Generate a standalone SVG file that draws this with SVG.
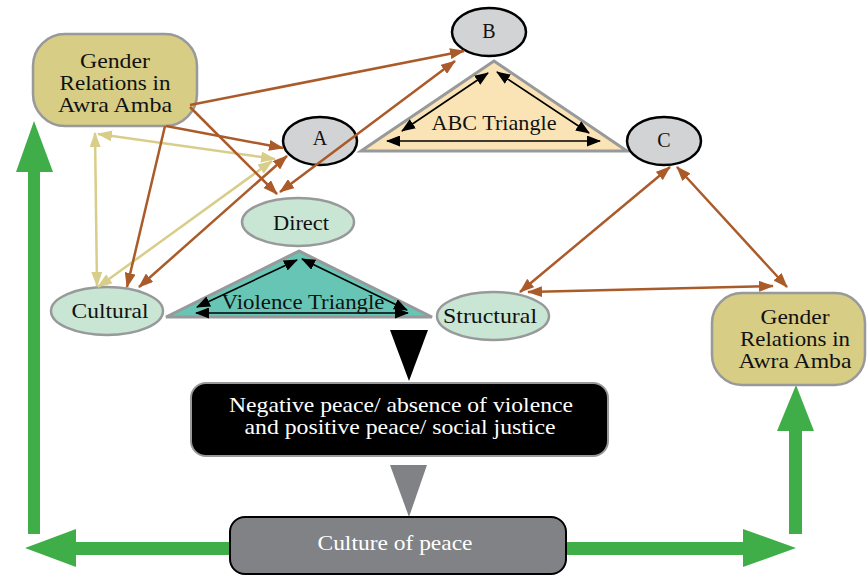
<svg xmlns="http://www.w3.org/2000/svg" width="868" height="576" viewBox="0 0 868 576">
<style>
text{font-family:"Liberation Serif","Times New Roman",serif;fill:#111;text-anchor:middle}
.w{fill:#fff}
.gbox{fill:#d7cd85;stroke:#98999b;stroke-width:2.5}
.abc{fill:#d1d3d4;stroke:#000;stroke-width:2.5}
.vio{fill:#c8e6d3;stroke:#98999b;stroke-width:2.5}
.br{stroke:#ab5a29;stroke-width:2.5;fill:none}
.tn{stroke:#d9cd8a;stroke-width:2.5;fill:none}
.bk{stroke:#000;stroke-width:1.6;fill:none}
.green{fill:#3fae49}
</style>
<defs>
<marker id="mb" markerUnits="userSpaceOnUse" markerWidth="15" markerHeight="11" refX="14" refY="5.5" orient="auto-start-reverse"><path d="M0,0 L15,5.5 L0,11 z" fill="#ab5a29"/></marker>
<marker id="mt" markerUnits="userSpaceOnUse" markerWidth="15" markerHeight="11" refX="14" refY="5.5" orient="auto-start-reverse"><path d="M0,0 L15,5.5 L0,11 z" fill="#d9cd8a"/></marker>
<marker id="mk" markerUnits="userSpaceOnUse" markerWidth="14" markerHeight="11" refX="13" refY="5.5" orient="auto-start-reverse"><path d="M0,0 L14,5.5 L0,11 z" fill="#000"/></marker>
</defs>

<g id="green-arrows">
<polygon class="green" points="28,534 40,534 40,172 53,172 34,121 16,172 28,172"/>
<polygon class="green" points="230,542 76,542 76,529 25,548 76,567 76,555 230,555"/>
<polygon class="green" points="566,542 743,542 743,529 796,548 743,567 743,555 566,555"/>
<polygon class="green" points="789,534 802,534 802,431 814,431 796,385 777,431 789,431"/>
</g>

<g id="gender-left">
<rect class="gbox" x="33" y="34" width="164" height="92" rx="32"/>
<text x="115" y="68" font-size="21" textLength="70" lengthAdjust="spacingAndGlyphs">Gender</text>
<text x="115" y="90" font-size="21" textLength="111" lengthAdjust="spacingAndGlyphs">Relations in</text>
<text x="115" y="112" font-size="21" textLength="114" lengthAdjust="spacingAndGlyphs">Awra Amba</text>
</g>

<g id="gender-right">
<rect class="gbox" x="712" y="293" width="153" height="92" rx="30"/>
<text x="795" y="324" font-size="21" textLength="69" lengthAdjust="spacingAndGlyphs">Gender</text>
<text x="795" y="346" font-size="21" textLength="110" lengthAdjust="spacingAndGlyphs">Relations in</text>
<text x="795" y="368" font-size="21" textLength="113" lengthAdjust="spacingAndGlyphs">Awra Amba</text>
</g>

<g id="abc-triangle">
<polygon points="494,61 361,151 627,151" fill="#fae4b5" stroke="#98999b" stroke-width="3"/>
<line class="bk" x1="387" y1="141" x2="600" y2="141" marker-start="url(#mk)" marker-end="url(#mk)"/>
<line class="bk" x1="402" y1="131" x2="488" y2="73" marker-start="url(#mk)" marker-end="url(#mk)"/>
<line class="bk" x1="497" y1="72" x2="589" y2="133" marker-start="url(#mk)" marker-end="url(#mk)"/>
<text x="494" y="130" font-size="21" textLength="125" lengthAdjust="spacingAndGlyphs">ABC Triangle</text>
</g>

<g id="violence-triangle">
<polygon points="299,251 166,317 432,317" fill="#66c5b4" stroke="#98999b" stroke-width="3"/>
<line class="bk" x1="196" y1="313" x2="408" y2="313" marker-start="url(#mk)" marker-end="url(#mk)"/>
<line class="bk" x1="197" y1="307" x2="297" y2="260" marker-start="url(#mk)" marker-end="url(#mk)"/>
<line class="bk" x1="302" y1="259" x2="407" y2="310" marker-start="url(#mk)" marker-end="url(#mk)"/>
<text x="303" y="309" font-size="21" textLength="163" lengthAdjust="spacingAndGlyphs">Violence Triangle</text>
</g>

<g id="node-B"><ellipse class="abc" cx="489" cy="32" rx="37" ry="24"/><text x="489" y="38" font-size="20">B</text></g>
<g id="node-A"><ellipse class="abc" cx="320" cy="141" rx="37" ry="24"/><text x="320" y="145" font-size="20">A</text></g>
<g id="node-C"><ellipse class="abc" cx="664" cy="141" rx="37" ry="24"/><text x="664" y="147" font-size="20">C</text></g>

<g id="node-direct"><ellipse class="vio" cx="298" cy="222" rx="56" ry="24"/><text x="301" y="230" font-size="21" textLength="56" lengthAdjust="spacingAndGlyphs">Direct</text></g>
<g id="node-cultural"><ellipse class="vio" cx="107" cy="311" rx="56" ry="24"/><text x="110" y="318" font-size="21" textLength="77" lengthAdjust="spacingAndGlyphs">Cultural</text></g>
<g id="node-structural"><ellipse class="vio" cx="493" cy="316" rx="56" ry="24"/><text x="490" y="323" font-size="21" textLength="94" lengthAdjust="spacingAndGlyphs">Structural</text></g>

<g id="black-arrow"><polygon points="390,330 428,330 409,381" fill="#000"/></g>

<g id="peace-box">
<rect x="191" y="383" width="417" height="73" rx="15" fill="#000" stroke="#98999b" stroke-width="2"/>
<text class="w" x="401" y="412" font-size="21" textLength="344" lengthAdjust="spacingAndGlyphs">Negative peace/ absence of violence</text>
<text class="w" x="400" y="434" font-size="21" textLength="311" lengthAdjust="spacingAndGlyphs">and positive peace/ social justice</text>
</g>

<g id="gray-arrow"><polygon points="390,465 427,465 409,517" fill="#808285"/></g>

<g id="culture-box">
<rect x="230" y="517" width="336" height="57" rx="15" fill="#808285" stroke="#000" stroke-width="2"/>
<text class="w" x="395" y="550" font-size="22" textLength="155" lengthAdjust="spacingAndGlyphs">Culture of peace</text>
</g>

<g id="connectors">
<line class="tn" x1="95" y1="133" x2="97" y2="286" marker-start="url(#mt)" marker-end="url(#mt)"/>
<line class="tn" x1="98" y1="134" x2="275" y2="159" marker-start="url(#mt)" marker-end="url(#mt)"/>
<line class="tn" x1="98" y1="287" x2="272" y2="161" marker-start="url(#mt)" marker-end="url(#mt)"/>
<line class="br" x1="190" y1="105" x2="464" y2="51" marker-end="url(#mb)"/>
<line class="br" x1="166" y1="126" x2="283" y2="148" marker-end="url(#mb)"/>
<line class="br" x1="165" y1="126" x2="127" y2="287" marker-end="url(#mb)"/>
<line class="br" x1="190" y1="107" x2="277" y2="194" marker-end="url(#mb)"/>
<line class="br" x1="455" y1="61" x2="280" y2="192" marker-start="url(#mb)" marker-end="url(#mb)"/>
<line class="br" x1="139" y1="287" x2="287" y2="156" marker-start="url(#mb)" marker-end="url(#mb)"/>
<line class="br" x1="670" y1="167" x2="520" y2="292" marker-start="url(#mb)" marker-end="url(#mb)"/>
<line class="br" x1="677" y1="167" x2="787" y2="287" marker-start="url(#mb)" marker-end="url(#mb)"/>
<line class="br" x1="528" y1="292" x2="773" y2="286" marker-start="url(#mb)" marker-end="url(#mb)"/>
</g>
</svg>
